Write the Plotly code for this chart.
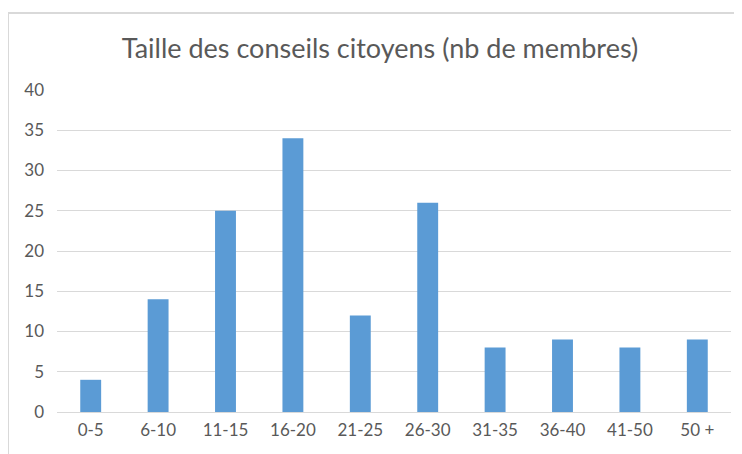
import plotly.graph_objects as go

categories = ["0-5", "6-10", "11-15", "16-20", "21-25", "26-30", "31-35", "36-40", "41-50", "50 +"]
values = [4, 14, 25, 34, 12, 26, 8, 9, 8, 9]
y_ticks = [0, 5, 10, 15, 20, 25, 30, 35, 40]

W, H = 742, 454
L, R, T, B = 49, 19, 82, 50
pw, ph = W - L - R, H - T - B

fig = go.Figure(go.Bar(x=categories, y=values, marker=dict(color="#5B9BD5", line=dict(width=0))))

fig.update_layout(
    width=W, height=H,
    margin=dict(l=L, r=R, t=T, b=B),
    paper_bgcolor="white", plot_bgcolor="white",
    bargap=0.69,
    showlegend=False,
    font=dict(family="Lato, 'Open Sans', sans-serif", color="#595959", size=17),
    title=dict(text="Taille des conseils citoyens (nb de membres)", x=372 / W, xref="container", xanchor="center",
               y=1 - 41 / H, yref="container", yanchor="middle",
               font=dict(size=27, color="#595959")),
    xaxis=dict(showgrid=False, showline=False, ticks="", ticklabelstandoff=6,
               tickfont=dict(size=17, color="#595959")),
    yaxis=dict(range=[0, 40], tickvals=y_ticks, showgrid=True, gridcolor="#D9D9D9", gridwidth=1,
               zeroline=True, zerolinecolor="#D9D9D9", zerolinewidth=1, showline=False, ticks="",
               ticklabelstandoff=12, tickfont=dict(size=17, color="#595959")),
    shapes=[dict(type="rect", xref="paper", yref="paper",
                 x0=(0 - L) / pw, x1=(W + 20 - L) / pw,
                 y0=-(B + 20) / ph, y1=(H - B - 5) / ph,
                 line=dict(color="#D9D9D9", width=2), fillcolor="rgba(0,0,0,0)", layer="below")],
)

fig.write_html("out.html")
